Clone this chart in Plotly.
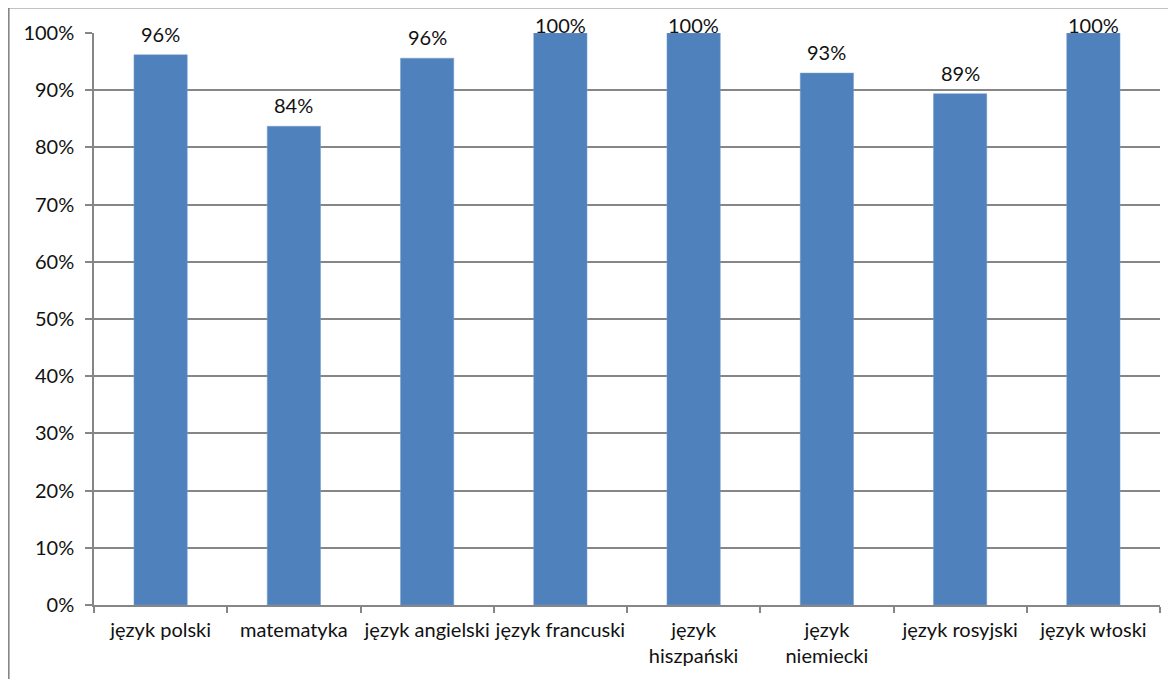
import plotly.graph_objects as go

categories = ["język polski", "matematyka", "język angielski", "język francuski",
              "język<br>hiszpański", "język<br>niemiecki", "język rosyjski", "język włoski"]
values = [0.962, 0.837, 0.956, 1.0, 1.0, 0.930, 0.894, 1.0]
y_ticks = [0, 0.1, 0.2, 0.3, 0.4, 0.5, 0.6, 0.7, 0.8, 0.9, 1.0]

FONT = "Lato"
GRID = "#868686"
FS = 20

fig = go.Figure()
fig.add_trace(go.Bar(
    x=categories, y=values, width=0.4,
    marker=dict(color="#4F81BD", line=dict(color="#7A9FCF", width=0.5)),
    hoverinfo="skip",
))

for c, v in zip(categories, values):
    fig.add_annotation(
        x=c, y=v, xref="x", yref="y",
        text=f"{round(v * 100):.0f}%",
        showarrow=False, yanchor="middle",
        yshift=8 if v >= 0.995 else 21,
        font=dict(family=FONT, size=FS, color="#111111"),
    )

fig.update_layout(
    width=1176, height=679,
    margin=dict(l=86, r=24, t=25, b=82),
    paper_bgcolor="white", plot_bgcolor="white",
    showlegend=False,
    font=dict(family=FONT, size=FS, color="#111111"),
    xaxis=dict(
        type="category", showgrid=False, showline=True, linecolor=GRID, linewidth=1.5,
        ticks="outside", tickson="boundaries", ticklen=6, tickcolor=GRID, tickwidth=1.5,
        tickfont=dict(family=FONT, size=FS, color="#111111"), tickangle=0,
        ticklabelstandoff=6,
    ),
    yaxis=dict(
        range=[0, 1.0], tickvals=y_ticks, tickformat=".0%",
        showgrid=True, gridcolor=GRID, gridwidth=1.5,
        showline=True, linecolor=GRID, linewidth=1.5,
        ticks="outside", ticklen=7, tickcolor=GRID, tickwidth=1.5,
        zeroline=False, ticklabelstandoff=7,
        tickfont=dict(family=FONT, size=FS, color="#111111"),
    ),
    shapes=[
        dict(type="line", xref="paper", yref="paper", x0=-0.0801, x1=1.2, y0=1.0446, y1=1.0446,
             line=dict(color=GRID, width=2)),
        dict(type="line", xref="paper", yref="paper", x0=-0.0801, x1=-0.0801, y0=-0.3, y1=1.0446,
             line=dict(color=GRID, width=2)),
    ],
)

fig.write_html("out.html")
